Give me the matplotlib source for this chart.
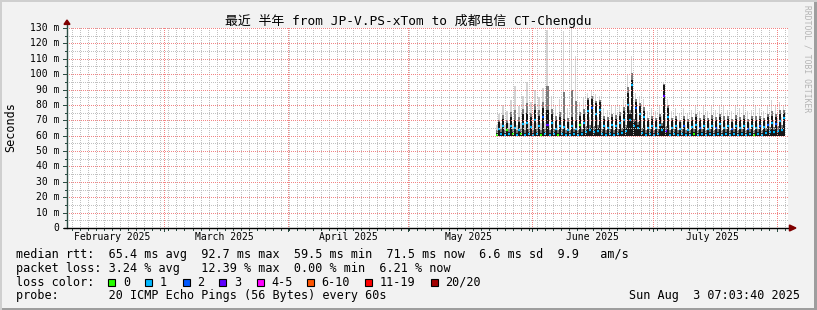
import matplotlib
matplotlib.use('Agg')
import matplotlib.pyplot as plt
import matplotlib.dates as mdates
from matplotlib.patches import Rectangle, Polygon
import numpy as np
from datetime import datetime, timedelta

plt.rcParams['font.family'] = ['DejaVu Sans Mono', 'Noto Sans CJK SC']

title = '最近 半年 from JP-V.PS-xTom to 成都电信 CT-Chengdu'
t_start = datetime(2025, 2, 4, 19, 0)
t_end = datetime(2025, 8, 3, 19, 0)
first_sample = datetime(2025, 5, 23, 0, 0)
step_hours = 12
ping_min = 59.5

# median rtt per 12h sample (ms), alternating night / evening
median = [60.5, 64.5, 61.0, 66.0, 60.5, 63.5, 61.0, 66.5, 61.0, 65.0, 60.5, 64.0,
          61.0, 67.5, 60.5, 68.5, 61.0, 65.5, 60.5, 70.0, 61.0, 66.0, 60.5, 72.0,
          61.0, 67.0, 60.5, 68.0, 61.0, 64.5, 60.5, 66.5, 61.0, 65.5, 60.5, 63.5,
          60.5, 66.0, 61.0, 64.5, 60.5, 67.0, 61.0, 68.0, 62.5, 76.0, 63.5, 78.0,
          62.5, 74.0, 63.0, 77.0, 61.0, 66.0, 60.5, 65.0, 61.0, 67.0, 60.5, 66.0,
          61.0, 68.0, 62.0, 70.0, 63.0, 80.0, 70.0, 92.7, 66.0, 78.0, 65.0, 74.0,
          62.0, 72.0, 60.5, 65.0, 61.0, 66.0, 60.5, 65.0, 61.0, 67.0, 64.0, 86.0,
          63.0, 72.0, 60.5, 65.0, 61.0, 66.0, 60.5, 64.5, 61.0, 66.5, 60.5, 64.0,
          60.5, 65.5, 61.0, 67.0, 60.5, 65.0, 61.0, 66.0, 60.5, 64.5, 61.0, 66.5,
          60.5, 65.0, 61.0, 67.5, 60.5, 65.0, 61.0, 66.0, 60.5, 64.5, 61.0, 66.5,
          60.5, 65.0, 61.0, 66.0, 60.5, 64.5, 61.0, 66.0, 60.5, 65.0, 61.0, 66.5,
          60.5, 65.5, 62.0, 67.0, 62.5, 68.5, 62.5, 67.5, 63.0, 69.5, 63.5, 71.5]
# upper edge of the dense smoke (ms)
upper = [62, 69, 62.5, 71, 62, 68, 62.5, 72, 62.5, 70, 62, 69,
         62.5, 74, 62, 75, 62.5, 72, 62, 77, 62.5, 73, 62, 78,
         62.5, 77, 62, 74, 62.5, 70, 62, 72, 62.5, 71, 62, 69,
         62, 72, 62.5, 70, 62, 73, 62.5, 74, 64, 83, 65, 84,
         64, 81, 65, 82, 62.5, 71, 62, 70, 62.5, 72, 62, 71,
         62.5, 73, 63, 76, 65, 88, 74, 96, 69, 82, 67, 79,
         63, 76, 62, 70, 62.5, 71, 62, 70, 62.5, 72, 66, 93,
         64, 78, 62, 70, 62.5, 71, 62, 69, 62.5, 71, 62, 69,
         62, 70, 62.5, 72, 62, 70, 62.5, 71, 62, 70, 62.5, 71,
         62, 70, 62.5, 72, 62, 70, 62.5, 71, 62, 69, 62.5, 71,
         62, 70, 62.5, 71, 62, 69, 62.5, 71, 62, 70, 62.5, 71,
         62, 70, 63, 72, 63.5, 73, 63.5, 72, 64, 74, 65, 75]
# slowest ping per sample (ms)
top = [67, 74, 68, 80, 67, 76, 68, 83, 68, 92, 67, 79,
       68, 86, 68, 95, 68, 82, 68, 90, 68, 85, 68, 91,
       68, 129, 67, 86, 68, 80, 67, 84, 68, 128, 67, 78,
       68, 130, 68, 112, 68, 82, 68, 85, 71, 88, 72, 90,
       71, 87, 72, 86, 68, 78, 67, 77, 68, 80, 67, 79,
       68, 80, 69, 84, 71, 100, 82, 112, 76, 88, 74, 86,
       70, 84, 67, 76, 68, 78, 67, 76, 68, 80, 73, 95,
       71, 84, 67, 76, 68, 78, 67, 74, 68, 78, 67, 75,
       67, 77, 68, 79, 67, 76, 68, 79, 67, 76, 68, 80,
       67, 77, 68, 80, 67, 79, 68, 77, 67, 76, 68, 80,
       67, 78, 68, 79, 67, 76, 68, 77, 67, 80, 68, 78,
       67, 76, 69, 79, 70, 83, 70, 80, 71, 82, 72, 80]
# lost pings out of 20 per sample
loss = [0, 1, 1, 1, 1, 0, 1, 1, 0, 1, 1, 1,
        0, 1, 1, 1, 1, 1, 1, 1, 1, 1, 0, 2,
        1, 3, 1, 1, 1, 1, 0, 1, 1, 1, 1, 1,
        1, 1, 1, 1, 1, 0, 1, 1, 1, 1, 1, 2,
        1, 1, 1, 1, 1, 1, 1, 1, 1, 1, 1, 1,
        1, 1, 1, 1, 1, 1, 1, 1, 1, 2, 1, 1,
        1, 1, 1, 1, 1, 1, 1, 1, 1, 1, 1, 3,
        3, 1, 1, 1, 1, 1, 1, 1, 1, 2, 1, 1,
        1, 1, 0, 1, 1, 2, 1, 1, 1, 1, 1, 1,
        1, 2, 1, 1, 1, 1, 1, 1, 1, 2, 1, 1,
        1, 1, 1, 1, 1, 2, 1, 1, 0, 1, 1, 2,
        1, 1, 1, 2, 1, 1, 1, 2, 1, 1, 1, 1]

loss_labels = ['0', '1', '2', '3', '4-5', '6-10', '11-19', '20/20']
loss_swatch = ['#26ff00', '#00b8ff', '#0059ff', '#5e00ff', '#ff00ff', '#ff5500', '#ff0000', '#a10000']
loss_limits = [0, 1, 2, 3, 5, 10, 19, 20]

month_starts = [datetime(2025, m, 1) for m in range(3, 9)]
month_labels = ['February 2025', 'March 2025', 'April 2025', 'May 2025', 'June 2025', 'July 2025']
label_dates = [datetime(2025, m, 16) for m in range(2, 8)]

legend_lines = [
    'median rtt:  65.4 ms avg  92.7 ms max  59.5 ms min  71.5 ms now  6.6 ms sd  9.9   am/s',
    'packet loss: 3.24 % avg   12.39 % max  0.00 % min  6.21 % now',
]
probe_text = 'probe:       20 ICMP Echo Pings (56 Bytes) every 60s'
stamp = 'Sun Aug  3 07:03:40 2025'

W, H = 817, 310
fig = plt.figure(figsize=(W / 100, H / 100), dpi=100, facecolor='#f2f2f2')

# rrdtool style 3d frame
fig.add_artist(Rectangle((0, 0), 1, 2 / H, transform=fig.transFigure, color='#9e9e9e', lw=0))
fig.add_artist(Rectangle((1 - 3 / W, 0), 3 / W, 1, transform=fig.transFigure, color='#9e9e9e', lw=0))
fig.add_artist(Rectangle((0, 1 - 2 / H), 1, 2 / H, transform=fig.transFigure, color='#cfcfcf', lw=0))
fig.add_artist(Rectangle((0, 0), 2 / W, 1, transform=fig.transFigure, color='#cfcfcf', lw=0))

x0, x1, y0, y1 = 67, 788, 228, 28
gw, gh = x1 - x0, y0 - y1
ax = fig.add_axes([x0 / W, 1 - y0 / H, gw / W, gh / H])
ax.set_facecolor('white')
xmin, xmax = mdates.date2num(t_start), mdates.date2num(t_end)
for s in ax.spines.values():
    s.set_visible(False)
ax.set_xticks([])
ax.set_yticks([])

# smoke + median
xs = [mdates.date2num(first_sample + timedelta(hours=step_hours * i)) for i in range(len(median))]
wd = step_hours / 24
mid = [u + 0.3 * (t - u) for u, t in zip(upper, top)]
ax.bar(xs, [t - ping_min for t in top], bottom=ping_min, width=wd * 0.7, align='edge', color='#d4d4d4', lw=0, zorder=2)
ax.bar(xs, [m - ping_min for m in mid], bottom=ping_min, width=wd, align='edge', color='#7a7a7a', lw=0, zorder=3)
ax.bar(xs, [u - ping_min for u in upper], bottom=ping_min, width=wd, align='edge', color='#161616', lw=0, zorder=4)


def loss_color(n):
    for lim, c in zip(loss_limits, loss_swatch):
        if n <= lim:
            return c
    return loss_swatch[-1]


ax.hlines(median, xs, [x + wd for x in xs], colors=[loss_color(n) for n in loss], lw=1.6, zorder=6)

# dotted 1px grid as a pixel overlay (rrdtool look)
minor_c = (0.76, 0.76, 0.76, 1.0)
major_c = (0.95, 0.52, 0.52, 1.0)
grid = np.zeros((gh, gw, 4))


def col_of(dnum):
    return int(round((dnum - xmin) / (xmax - xmin) * gw))


def row_of(v):
    return min(gh - 1, int(round((130 - v) / 130 * gh)))


minor_days = []
d = mdates.date2num(datetime(2025, 2, 6, 3, 0))
while d < xmax:
    minor_days.append(d)
    d += 2
for d in minor_days:
    grid[0::2, col_of(d)] = minor_c
for v in range(5, 131, 10):
    grid[row_of(v), 0::2] = minor_c
for m in month_starts:
    grid[0::2, col_of(mdates.date2num(m))] = major_c
for v in range(10, 131, 10):
    grid[row_of(v), 0::2] = major_c
ax.imshow(grid, extent=[xmin, xmax, 0, 130], origin='upper', interpolation='nearest', aspect='auto', zorder=7)
ax.set_xlim(xmin, xmax)
ax.set_ylim(0, 130)

xtr = ax.get_xaxis_transform()
ytr = ax.get_yaxis_transform()
for d in minor_days:
    ax.plot([d, d], [0, -2 / gh], transform=xtr, color='#2c4d43', lw=0.72, clip_on=False, zorder=8)
for m in month_starts:
    d = mdates.date2num(m)
    ax.plot([d, d], [0, -3 / gh], transform=xtr, color='#2c4d43', lw=0.72, clip_on=False, zorder=8)
for v in range(5, 131, 10):
    ax.plot([-2 / gw, 0], [v, v], transform=ytr, color='#2c4d43', lw=0.72, clip_on=False, zorder=8)
for v in range(0, 131, 10):
    ax.plot([-4 / gw, 0], [v, v], transform=ytr, color='#2c4d43', lw=0.72, clip_on=False, zorder=8)
    ax.text(-8 / gw, v, '0' if v == 0 else f'{v} m', transform=ytr, ha='right', va='center',
            fontsize=7, color='black')

for lab, dt in zip(month_labels, label_dates):
    ax.text(mdates.date2num(dt), -9.5 / gh, lab, transform=xtr, ha='center', va='center',
            fontsize=7, color='black')

# axes with arrows
ax.plot([0, 0], [0, 1.02], transform=ax.transAxes, color='#2c4d43', lw=1, clip_on=False, zorder=9)
ax.plot([-3 / gw, 1.003], [0, 0], transform=ax.transAxes, color='black', lw=1, clip_on=False, zorder=9)
ax.add_patch(Polygon([(-3 / gw, 1.018), (3 / gw, 1.018), (0, 1.04)], closed=True, transform=ax.transAxes,
                     color='#7f0000', clip_on=False, zorder=10))
ax.add_patch(Polygon([(1.002, -3 / gh), (1.002, 3 / gh), (1.011, 0)], closed=True, transform=ax.transAxes,
                     color='#7f0000', clip_on=False, zorder=10))

# texts
fig.text(0.5, 1 - 21.5 / H, title, ha='center', va='center', fontsize=9.3, color='black')
fig.text(11 / W, 1 - 127 / H, 'Seconds', rotation=90, ha='center', va='center', fontsize=8.5)
fig.text(806.5 / W, 1 - 5 / H, 'RRDTOOL / TOBI OETIKER', rotation=270, ha='center', va='top',
         fontsize=5.8, color='#b4b4b4')

fig.text(16 / W, 1 - 254.3 / H, legend_lines[0], ha='left', va='center', fontsize=8.5)
fig.text(16 / W, 1 - 268.3 / H, legend_lines[1], ha='left', va='center', fontsize=8.5)
fig.text(16 / W, 1 - 282.3 / H, 'loss color:', ha='left', va='center', fontsize=8.5)
sw_x = [108.3, 145.3, 182.7, 219.3, 256.7, 306.7, 365, 431]
for sx, lab, c in zip(sw_x, loss_labels, loss_swatch):
    fig.add_artist(Rectangle((sx / W, 1 - 286 / H), 7 / W, 7 / H, transform=fig.transFigure,
                             facecolor=c, edgecolor='black', lw=0.8))
    fig.text((sx + 14.5) / W, 1 - 282.3 / H, lab, ha='left', va='center', fontsize=8.5)
fig.text(16 / W, 1 - 296 / H, probe_text, ha='left', va='center', fontsize=8.5)
fig.text(800 / W, 1 - 296 / H, stamp, ha='right', va='center', fontsize=8.5)

fig.savefig('out.png', dpi=100, facecolor=fig.get_facecolor())
